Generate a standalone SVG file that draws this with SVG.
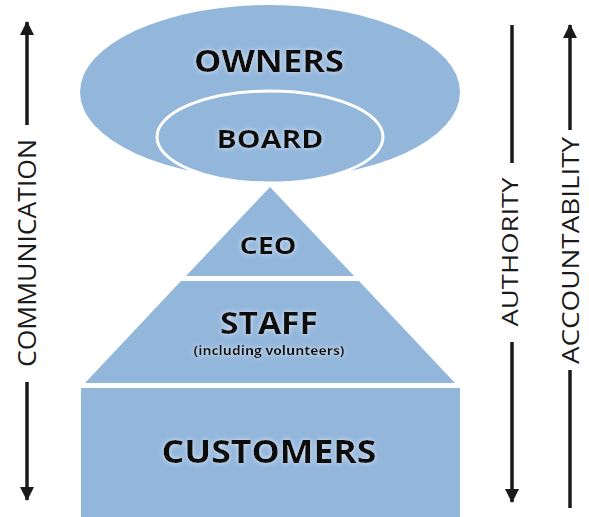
<svg xmlns="http://www.w3.org/2000/svg" width="589" height="517" viewBox="0 0 589 517">
<style>
.shape{fill:#93b6db}
.lbl{font-family:"Open Sans","Liberation Sans",sans-serif;font-weight:bold;fill:#111;text-anchor:middle;filter:url(#glow)}
.side{font-family:"Open Sans","Liberation Sans",sans-serif;fill:#1a1a1a;text-anchor:middle}
.ln{stroke:#1a1a1a;stroke-width:3.5;fill:none}
</style>
<defs>
<marker id="ah" markerUnits="userSpaceOnUse" markerWidth="14" markerHeight="14" viewBox="0 0 14 14" refX="13" refY="7" orient="auto">
<path d="M0,0 L14,7 L0,14 Z" fill="#1a1a1a"/>
</marker>
<filter id="glow" x="-20%" y="-40%" width="140%" height="180%">
<feGaussianBlur in="SourceAlpha" stdDeviation="2.5" result="b"/>
<feFlood flood-color="#e8f0f9" flood-opacity="0.9"/>
<feComposite in2="b" operator="in" result="g"/>
<feMerge><feMergeNode in="g"/><feMergeNode in="SourceGraphic"/></feMerge>
</filter>
</defs>
<g id="owners">
<ellipse class="shape" cx="270" cy="92" rx="190" ry="87"/>
<text class="lbl" x="269" y="72" font-size="31" textLength="150" lengthAdjust="spacingAndGlyphs">OWNERS</text>
</g>
<g id="board">
<ellipse class="shape" cx="270" cy="137" rx="113" ry="46" stroke="#fff" stroke-width="3"/>
<text class="lbl" x="270" y="148" font-size="25" textLength="107" lengthAdjust="spacingAndGlyphs">BOARD</text>
</g>
<g id="ceo">
<polygon class="shape" points="270,187 354,276 186,276"/>
<text class="lbl" x="268" y="254" font-size="24" textLength="57" lengthAdjust="spacingAndGlyphs">CEO</text>
</g>
<g id="staff">
<polygon class="shape" points="181,281 359,281 455,383 85,383"/>
<text class="lbl" x="269" y="334" font-size="30" textLength="98" lengthAdjust="spacingAndGlyphs">STAFF</text>
<text class="lbl" x="269" y="355" font-size="12" textLength="151" lengthAdjust="spacingAndGlyphs">(including volunteers)</text>
</g>
<g id="customers">
<rect class="shape" x="81" y="388" width="379" height="129"/>
<text class="lbl" x="269" y="463" font-size="32" textLength="215" lengthAdjust="spacingAndGlyphs">CUSTOMERS</text>
</g>
<g id="connectors">
<line class="ln" x1="27" y1="125" x2="27" y2="22" marker-end="url(#ah)"/>
<line class="ln" x1="27" y1="382" x2="27" y2="500" marker-end="url(#ah)"/>
<line class="ln" x1="512" y1="25" x2="512" y2="163"/>
<line class="ln" x1="512" y1="342" x2="512" y2="502" marker-end="url(#ah)"/>
<line class="ln" x1="570" y1="130" x2="570" y2="25" marker-end="url(#ah)"/>
<line class="ln" x1="570" y1="370" x2="570" y2="508"/>
</g>
<g id="labels">
<text class="side" transform="translate(36,253) rotate(-90)" font-size="26" textLength="228" lengthAdjust="spacingAndGlyphs">COMMUNICATION</text>
<text class="side" transform="translate(518,252) rotate(-90)" font-size="22" textLength="149" lengthAdjust="spacingAndGlyphs">AUTHORITY</text>
<text class="side" transform="translate(579,250.5) rotate(-90)" font-size="23" textLength="227" lengthAdjust="spacingAndGlyphs">ACCOUNTABILITY</text>
</g>
</svg>
